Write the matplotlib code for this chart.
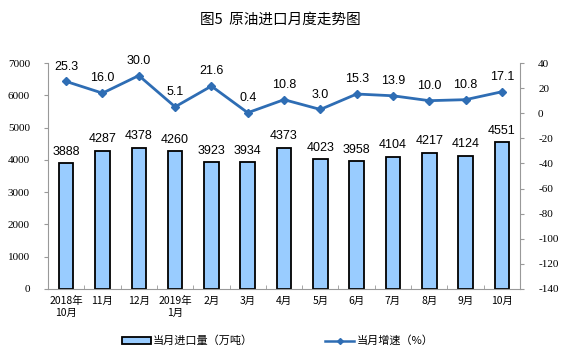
import matplotlib.pyplot as plt
import numpy as np

plt.rcParams['font.family'] = ['Noto Sans CJK SC', 'DejaVu Sans']
plt.rcParams['axes.unicode_minus'] = False

months = ["2018年\n10月", "11月", "12月", "2019年\n1月", "2月", "3月", "4月",
          "5月", "6月", "7月", "8月", "9月", "10月"]
imports = [3888, 4287, 4378, 4260, 3923, 3934, 4373, 4023, 3958, 4104, 4217, 4124, 4551]
growth = [25.3, 16.0, 30.0, 5.1, 21.6, 0.4, 10.8, 3.0, 15.3, 13.9, 10.0, 10.8, 17.1]

fig = plt.figure(figsize=(5.61, 3.57), dpi=100)
ax = fig.add_axes([0.0856, 0.1905, 0.8414, 0.633])
ax2 = ax.twinx()

x = np.arange(len(months))
bars = ax.bar(x, imports, width=0.4, color="#99CCFF", edgecolor="black",
              linewidth=1.3, label="当月进口量（万吨）", zorder=2)
for xi, v in zip(x, imports):
    ax.text(xi, v + 170, f"{v}", ha="center", va="bottom",
            fontsize=9, family="Liberation Sans")

line, = ax2.plot(x, growth, color="#2E6DB4", linewidth=2, marker="D",
                 markersize=4, label="当月增速（%）", zorder=3)
for xi, v in zip(x, growth):
    ax2.text(xi, v + 7, f"{v:.1f}", ha="center", va="bottom",
             fontsize=9, family="Liberation Sans")

ax.set_xlim(-0.5, len(months) - 0.5)
ax.set_ylim(0, 7000)
ax.set_yticks(range(0, 7001, 1000))
ax2.set_ylim(-140, 40)
ax2.set_yticks(range(-140, 41, 20))

ax.set_xticks(x)
ax.set_xticklabels(months, fontsize=7.5)
ax.set_xticks(np.arange(-0.5, len(months), 1), minor=True)
ax.tick_params(axis="x", which="major", length=0, pad=5)
ax.tick_params(axis="x", which="minor", length=3, color="#999999", direction="in")

for a in (ax, ax2):
    for s in a.spines.values():
        s.set_visible(False)
ax.spines["left"].set_visible(True)
ax.spines["left"].set_color("#999999")
ax.spines["bottom"].set_visible(True)
ax.spines["bottom"].set_color("#999999")
ax2.spines["right"].set_visible(True)
ax2.spines["right"].set_color("#999999")

ax.tick_params(axis="y", length=3, color="#999999", labelsize=8, pad=10)
ax2.tick_params(axis="y", length=3, color="#999999", labelsize=8, pad=10)
for lab in ax.get_yticklabels() + ax2.get_yticklabels():
    lab.set_family("Liberation Serif")

fig.suptitle("图5  原油进口月度走势图", fontsize=10.5, y=0.965)

leg = fig.legend([bars, line], ["当月进口量（万吨）", "当月增速（%）"],
                 loc="center", bbox_to_anchor=(0.495, 0.045), ncol=2, frameon=False,
                 fontsize=8, handlelength=2.6, handleheight=0.5, columnspacing=6.5,
                 handletextpad=0.2)
leg.legend_handles[1].set_markersize(3)
leg.legend_handles[1].set_linewidth(1.8)

fig.savefig("out.png", dpi=100)
